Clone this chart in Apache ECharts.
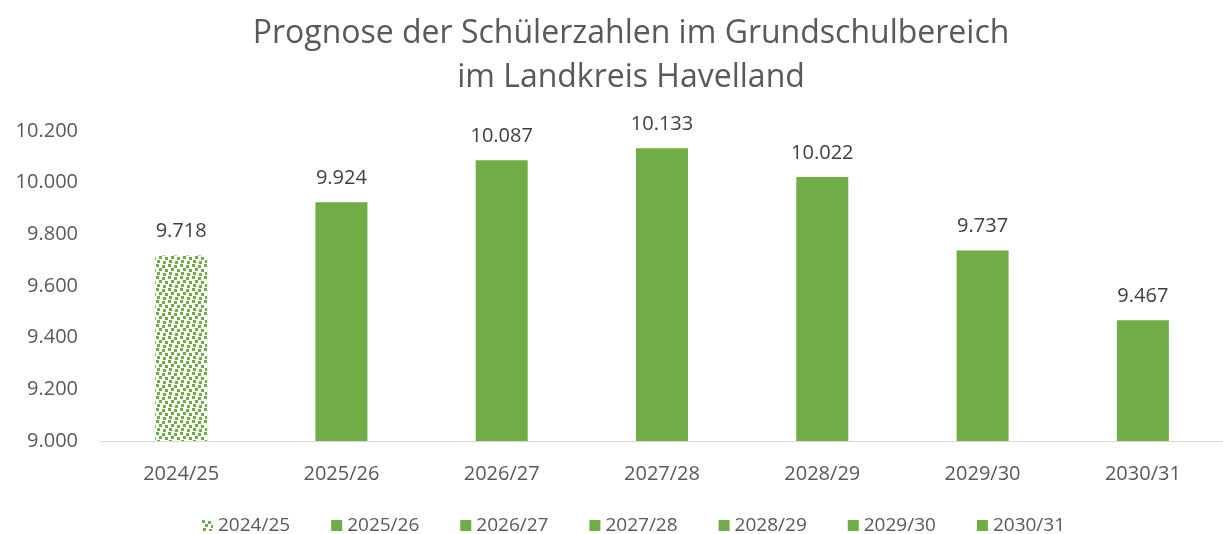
<!DOCTYPE html>
<html>
<head>
<meta charset="utf-8">
<script src="https://cdn.jsdelivr.net/npm/echarts@6/dist/echarts.min.js"></script>
<style>
  html, body { margin: 0; padding: 0; background: #fff; }
  #main { width: 1223px; height: 534px; }
</style>
</head>
<body>
<div id="main"></div>
<script>
// Schuljahre und Schülerzahlen
var years = ['2024/25', '2025/26', '2026/27', '2027/28', '2028/29', '2029/30', '2030/31'];
var pupils = [9718, 9924, 10087, 10133, 10022, 9737, 9467];
var yTicks = [9000, 9200, 9400, 9600, 9800, 10000, 10200];

var green = '#70AD47';
var font = 'Open Sans';

// Punktmuster für das Ist-Jahr
var pat = document.createElement('canvas');
pat.width = 12; pat.height = 12;
var ctx = pat.getContext('2d');
ctx.fillStyle = '#fff';
ctx.fillRect(0, 0, 12, 12);
ctx.fillStyle = green;
[[0, 0], [6, 1], [3, 4], [9, 5], [1, 8], [7, 9]].forEach(function (p) {
    ctx.fillRect(p[0], p[1], 3, 3);
});

var series = years.map(function (y, i) {
    return {
        name: y,
        type: 'bar',
        stack: 'all',
        barWidth: 52,
        data: years.map(function (_, j) { return j === i ? pupils[j] : null; }),
        itemStyle: { color: i === 0 ? { image: pat, repeat: 'repeat' } : green },
        label: {
            show: true,
            position: 'top',
            distance: 14,
            color: '#404040',
            fontSize: 20,
            fontFamily: font,
            formatter: function (p) { return p.value.toLocaleString('de-DE'); }
        }
    };
});

var myChart = echarts.init(document.getElementById('main'));
var option = {
    animation: false,
    title: {
        text: 'Prognose der Schülerzahlen im Grundschulbereich\nim Landkreis Havelland',
        left: 626,
        textAlign: 'center',
        top: 7,
        textStyle: { color: '#595959', fontSize: 32, fontWeight: 'normal', fontFamily: font, lineHeight: 44 }
    },
    legend: {
        top: 511,
        left: 197,
        itemWidth: 11,
        itemHeight: 11,
        itemGap: 41,
        icon: 'rect',
        textStyle: { color: '#595959', fontSize: 19, fontFamily: font },
        data: years
    },
    grid: { left: 101, width: 1130, top: 131, height: 310 },
    xAxis: {
        type: 'category',
        data: years,
        axisLine: { lineStyle: { color: '#D9D9D9', width: 1 } },
        axisTick: { show: false },
        axisLabel: { color: '#595959', fontSize: 20, fontFamily: font, margin: 23 }
    },
    yAxis: {
        type: 'value',
        min: yTicks[0],
        max: yTicks[yTicks.length - 1],
        interval: 200,
        splitLine: { show: false },
        axisLine: { show: false },
        axisLabel: {
            color: '#595959', fontSize: 20, fontFamily: font, margin: 23,
            formatter: function (v) { return v.toLocaleString('de-DE'); }
        }
    },
    series: series
};
myChart.setOption(option);
</script>
</body>
</html>
